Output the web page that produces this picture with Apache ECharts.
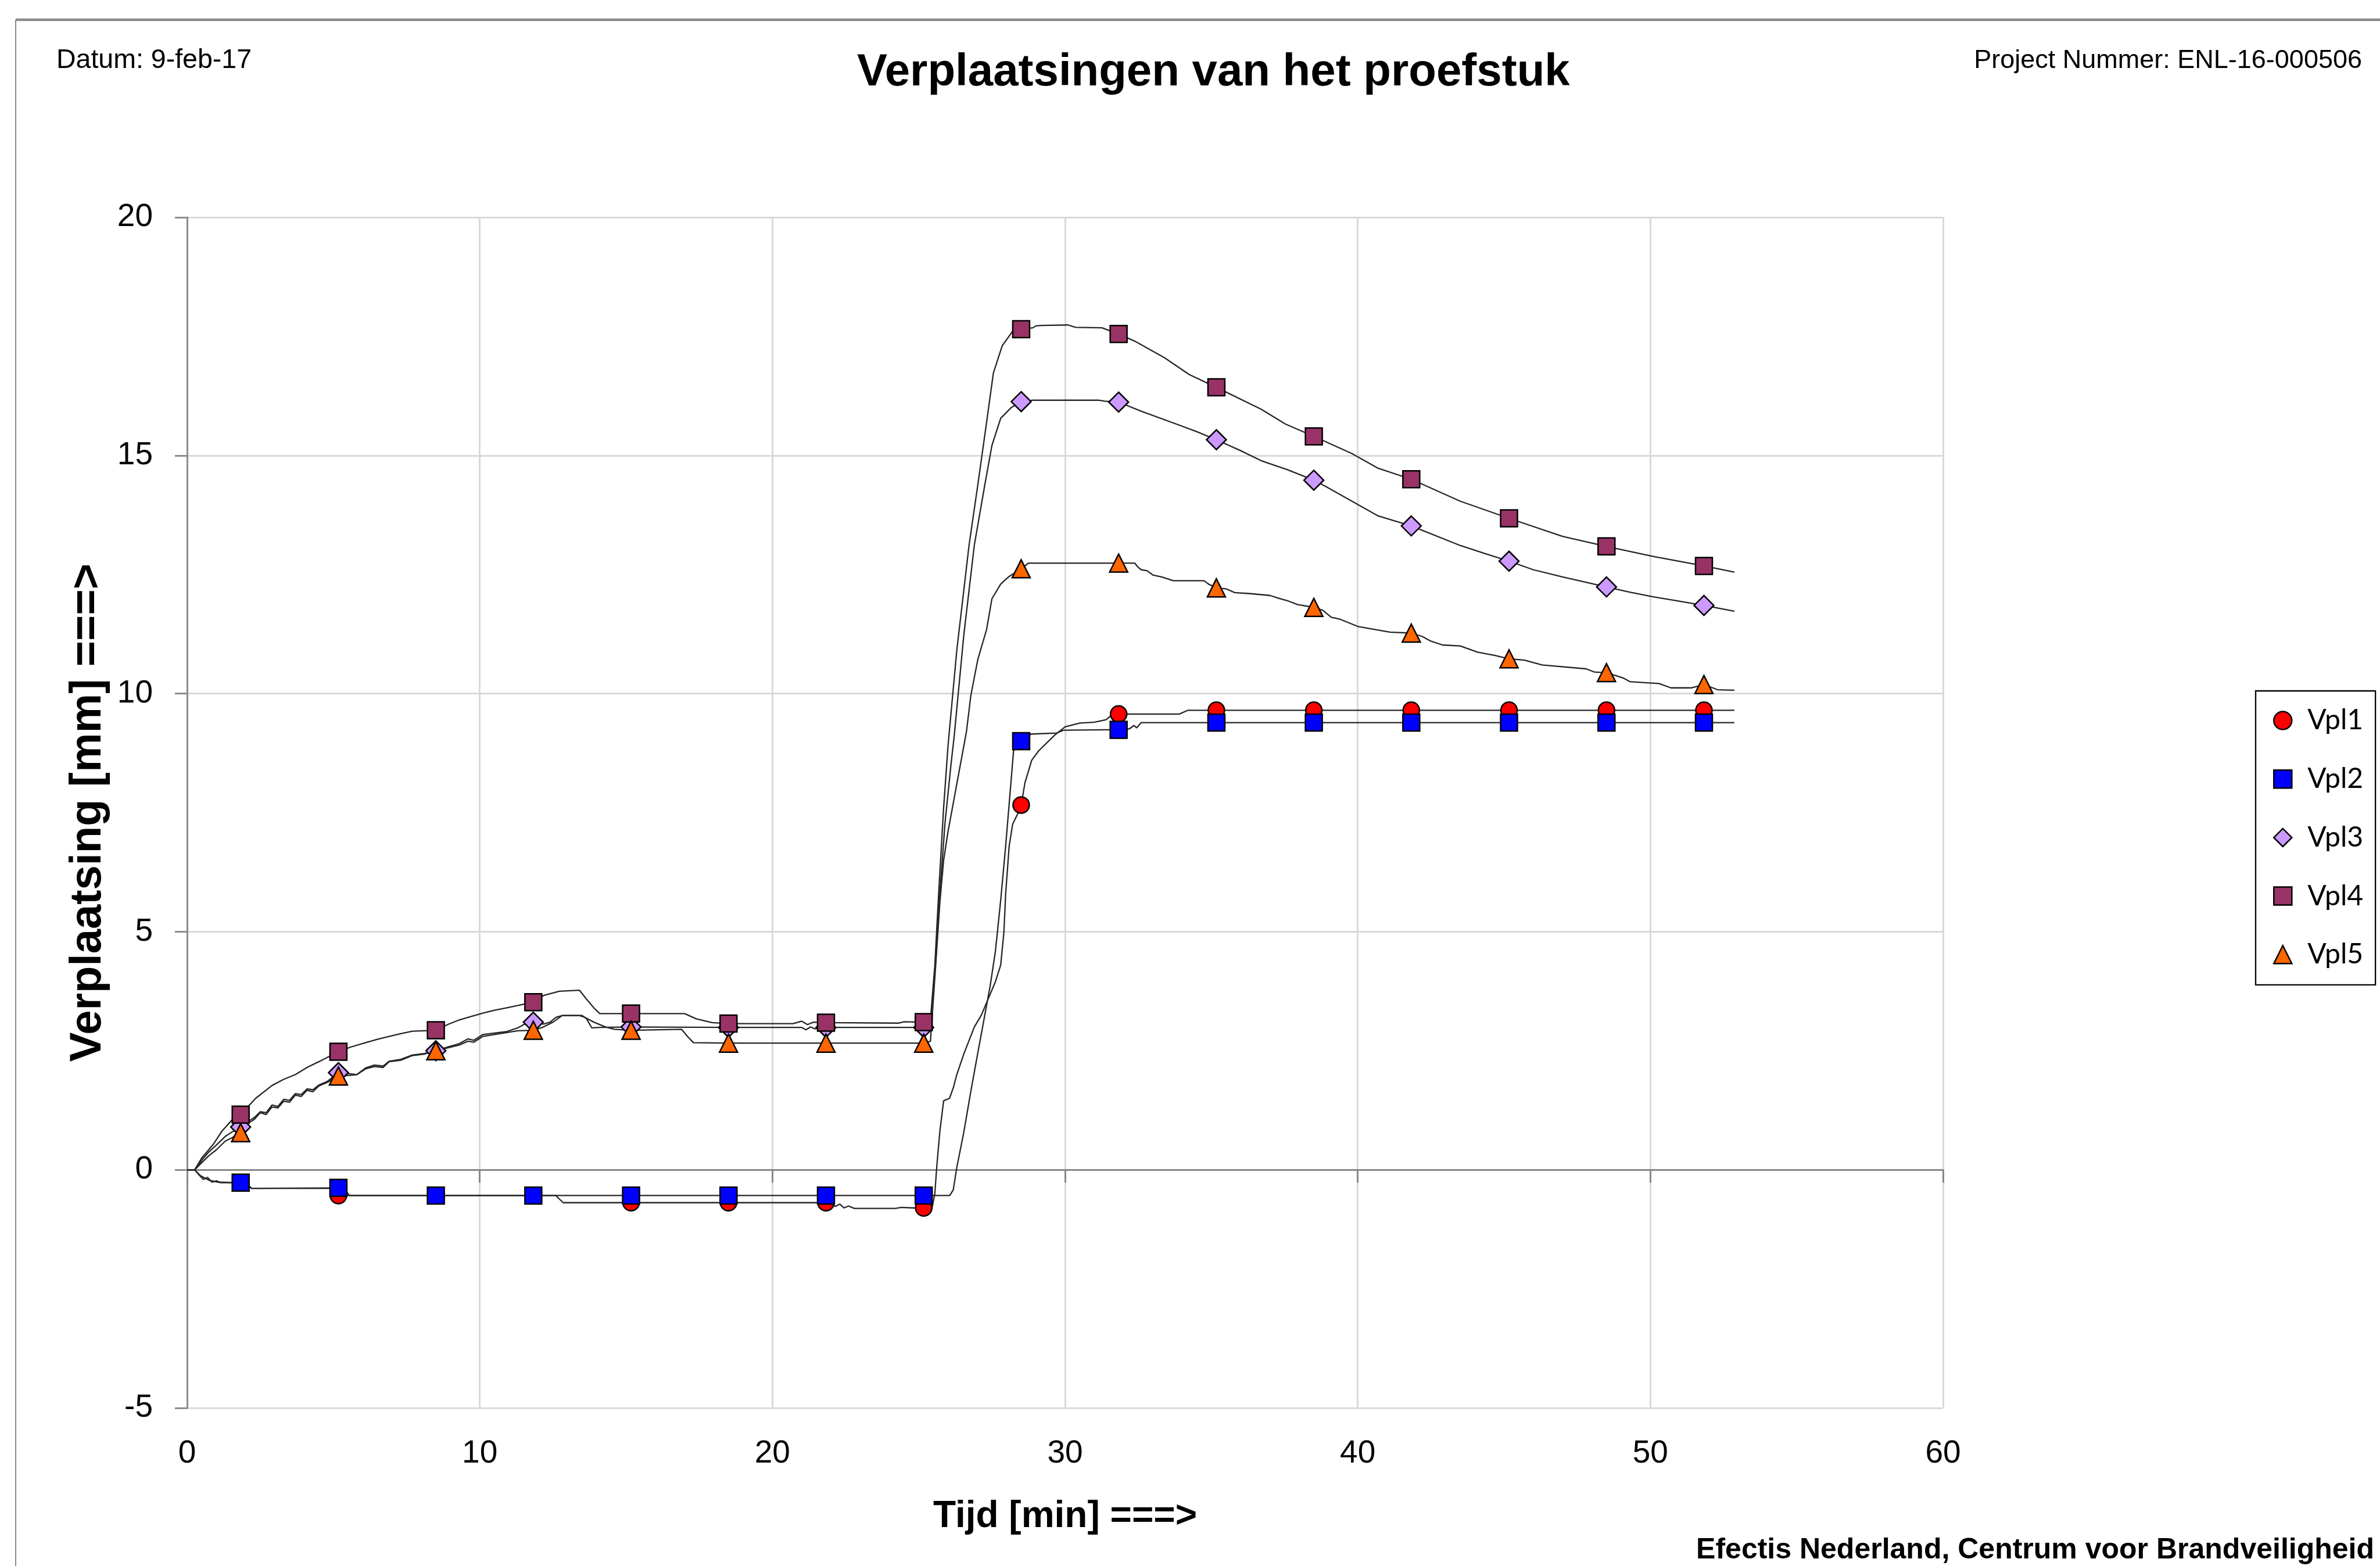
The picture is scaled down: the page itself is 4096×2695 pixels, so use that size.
<!DOCTYPE html>
<html>
<head>
<meta charset="utf-8">
<title>Verplaatsingen van het proefstuk</title>
<script src="https://cdn.jsdelivr.net/npm/echarts@6.0.0/dist/echarts.min.js"></script>
<style>
  html, body { margin: 0; padding: 0; background: #ffffff; }
  #chart { width: 4096px; height: 2695px; }
</style>
</head>
<body>
<div id="chart"></div>
<script>
// Measurement times (min) at which the sensor markers are plotted
const markTimes = [1.83, 5.17, 8.5, 11.83, 15.17, 18.5, 21.83, 25.17, 28.5, 31.83, 35.17, 38.5, 41.83, 45.17, 48.5, 51.83];

// Displacement (mm) at the marker times
const vpl1Marks = [-0.27, -0.54, -0.54, -0.54, -0.69, -0.69, -0.69, -0.8, 7.66, 9.57, 9.65, 9.65, 9.65, 9.65, 9.65, 9.65];
const vpl2Marks = [-0.27, -0.38, -0.54, -0.54, -0.54, -0.54, -0.54, -0.54, 9.0, 9.24, 9.39, 9.39, 9.39, 9.39, 9.39, 9.39];
const vpl3Marks = [0.9, 2.04, 2.5, 3.1, 3.0, 2.99, 2.99, 2.99, 16.13, 16.12, 15.33, 14.48, 13.52, 12.78, 12.24, 11.85];
const vpl4Marks = [1.16, 2.48, 2.93, 3.52, 3.28, 3.07, 3.09, 3.1, 17.65, 17.55, 16.43, 15.4, 14.5, 13.68, 13.09, 12.68];
const vpl5Marks = [0.78, 1.97, 2.5, 2.93, 2.93, 2.66, 2.66, 2.66, 12.62, 12.74, 12.22, 11.81, 11.27, 10.73, 10.44, 10.19];

// Logged readings between the markers: [time (min), displacement (mm)]
const vpl1Trace = [[0,0],[0.26,0],[0.4,-0.1],[0.55,-0.2],[0.7,-0.16],[0.85,-0.26],[1.0,-0.23],[1.15,-0.27],[2.0,-0.27],[2.2,-0.39],[4.9,-0.39],[5.05,-0.5],
  [5.4,-0.54],[12.6,-0.54],[12.85,-0.69],[22.0,-0.69],[22.15,-0.77],[22.3,-0.72],[22.45,-0.8],[22.6,-0.76],[22.8,-0.81],[24.2,-0.81],[24.4,-0.79],[24.8,-0.8],
  [25.45,-0.82],[25.55,-0.5],[25.62,0.1],[25.72,0.8],[25.85,1.45],[26.05,1.5],[26.18,1.72],[26.3,2.0],[26.55,2.45],[26.9,3.0],[27.14,3.25],[27.38,3.6],
  [27.62,3.95],[27.8,4.3],[27.91,4.99],[27.97,5.8],[28.09,6.8],[28.21,7.26],[28.4,7.5],[28.63,8.13],[28.86,8.6],[29.1,8.8],[29.65,9.13],[30.0,9.3],
  [30.5,9.38],[31.0,9.4],[31.4,9.45],[31.6,9.55],[32.5,9.57],[33.9,9.57],[34.2,9.65],[52.87,9.65]];
const vpl2Trace = [[0,0],[0.26,0],[0.45,-0.12],[0.75,-0.22],[1.07,-0.26],[2.0,-0.27],[2.2,-0.39],[5.35,-0.39],[5.55,-0.54],[26.06,-0.54],[26.18,-0.42],
  [26.3,0.05],[26.54,0.79],[26.78,1.65],[27.02,2.46],[27.26,3.26],[27.44,3.86],[27.62,4.59],[27.8,5.66],[27.97,6.8],[28.15,8.13],[28.24,8.8],[28.84,9.15],
  [29.7,9.17],[29.95,9.23],[31.4,9.24],[32.2,9.26],[32.35,9.33],[32.45,9.28],[32.6,9.39],[52.87,9.39]];
const vpl3Trace = [[0,0],[0.26,0],[0.5,0.2],[0.75,0.38],[1.0,0.52],[1.3,0.7],[1.55,0.8],[2.1,1.02],[2.3,1.1],[2.5,1.22],[2.7,1.2],[2.9,1.36],[3.1,1.33],
  [3.3,1.48],[3.5,1.46],[3.7,1.6],[3.9,1.58],[4.1,1.7],[4.3,1.68],[4.5,1.78],[4.8,1.86],[5.5,2.02],[5.8,2.0],[6.1,2.14],[6.4,2.2],[6.7,2.18],[6.9,2.28],
  [7.3,2.32],[7.7,2.41],[8.1,2.44],[8.9,2.58],[9.3,2.65],[9.6,2.75],[9.8,2.72],[10.1,2.84],[10.5,2.87],[10.9,2.9],[11.3,2.98],[11.5,3.05],[12.18,3.06],
  [12.4,3.1],[12.6,3.2],[12.82,3.24],[13.5,3.24],[13.65,3.17],[13.83,2.98],[14.1,2.99],[21.0,2.99],[21.15,2.94],[21.3,3.0],[21.45,2.96],[21.6,2.99],
  [25.4,3.02],[25.58,4.4],[25.72,5.8],[25.9,7.3],[26.1,8.5],[26.21,9.1],[26.54,11.23],[26.9,13.12],[27.26,14.39],[27.5,15.21],[27.8,15.78],[28.15,16.0],
  [28.9,16.16],[31.14,16.16],[31.35,16.14],[32.6,15.93],[33.8,15.66],[34.5,15.5],[36.0,15.1],[36.7,14.89],[37.6,14.7],[38.9,14.35],[39.8,14.04],
  [40.7,13.73],[43.5,13.11],[44.3,12.95],[46.0,12.6],[47.0,12.45],[49.3,12.13],[50.1,12.03],[50.9,11.95],[52.87,11.73]];
const vpl4Trace = [[0,0],[0.26,0],[0.5,0.25],[0.9,0.54],[1.2,0.82],[1.54,1.05],[2.34,1.5],[2.9,1.77],[3.3,1.9],[3.7,2.0],[4.1,2.15],[4.5,2.27],[5.6,2.58],
  [6.1,2.67],[6.5,2.74],[6.9,2.8],[7.3,2.86],[7.7,2.91],[8.9,3.05],[9.31,3.15],[9.7,3.22],[10.1,3.29],[10.5,3.35],[10.9,3.4],[11.3,3.45],[12.18,3.66],
  [12.72,3.75],[13.41,3.77],[13.64,3.59],[13.9,3.4],[14.1,3.28],[17.0,3.28],[17.4,3.17],[17.94,3.09],[20.7,3.07],[21.0,3.12],[21.2,3.05],[21.4,3.1],
  [24.3,3.08],[24.5,3.11],[25.4,3.15],[25.55,4.3],[25.68,5.8],[25.85,7.6],[26.0,8.9],[26.3,10.91],[26.72,13.12],[27.02,14.39],[27.38,15.97],[27.55,16.73],
  [27.85,17.3],[28.21,17.61],[28.9,17.68],[29.0,17.72],[29.17,17.73],[30.1,17.74],[30.36,17.69],[31.26,17.68],[32.38,17.4],[33.4,17.05],[34.24,16.7],
  [36.7,15.97],[37.53,15.66],[39.8,15.04],[40.7,14.73],[43.5,14.04],[47.0,13.3],[50.1,12.88],[52.87,12.55]];
const vpl5Trace = [[0,0],[0.26,0],[0.5,0.15],[0.75,0.3],[1.0,0.42],[1.3,0.6],[1.55,0.68],[2.1,0.98],[2.3,1.06],[2.5,1.2],[2.7,1.16],[2.9,1.32],[3.1,1.3],
  [3.3,1.44],[3.5,1.42],[3.7,1.57],[3.9,1.54],[4.1,1.67],[4.3,1.64],[4.5,1.76],[4.8,1.84],[5.5,1.98],[5.8,2.0],[6.1,2.12],[6.4,2.17],[6.7,2.15],[6.9,2.27],
  [7.3,2.3],[7.7,2.4],[8.1,2.43],[8.9,2.56],[9.3,2.62],[9.6,2.7],[9.8,2.68],[10.1,2.8],[10.5,2.84],[10.9,2.88],[11.3,2.92],[12.18,3.0],[12.5,3.1],
  [12.82,3.24],[13.4,3.24],[13.6,3.2],[13.9,3.1],[14.3,3.0],[14.6,2.95],[16.9,2.95],[17.1,2.8],[17.3,2.67],[25.4,2.7],[25.58,4.3],[25.72,5.6],[25.85,6.5],
  [26.0,7.1],[26.3,8.1],[26.63,9.2],[26.78,9.96],[27.02,10.72],[27.32,11.35],[27.5,11.99],[27.8,12.3],[28.09,12.46],[28.75,12.74],[31.5,12.74],[32.38,12.74],
  [32.5,12.65],[32.6,12.6],[32.8,12.58],[33.0,12.49],[33.3,12.45],[33.7,12.37],[34.75,12.37],[34.9,12.3],[35.5,12.2],[35.8,12.12],[36.3,12.1],[37.0,12.06],
  [37.3,12.0],[37.6,11.95],[37.94,11.87],[38.8,11.75],[39.1,11.6],[39.4,11.56],[40.0,11.41],[41.1,11.29],[42.2,11.2],[42.5,11.1],[42.9,11.02],[43.5,11.0],
  [44.1,10.87],[44.7,10.8],[45.7,10.7],[46.3,10.6],[47.8,10.52],[48.1,10.45],[49.06,10.33],[49.3,10.25],[50.3,10.21],[50.7,10.12],[51.4,10.12],[52.3,10.08],[52.87,10.07]];

const seriesNames = ['Vpl1', 'Vpl2', 'Vpl3', 'Vpl4', 'Vpl5'];
const xTicks = { min: 0, max: 60, step: 10 };
const yTicks = { min: -5, max: 20, step: 5 };

const FONT = 'Liberation Sans';
const LINE_COLOR = '#262626';

// One line per sensor: the logged readings drawn as a thin line, with a
// marker symbol only on the marker readings.
function sensorSeries(name, trace, marks, symbol, size, fill) {
  const pts = trace.map(p => ({ value: p, symbol: 'none' }));
  markTimes.forEach((t, i) => pts.push({ value: [t, marks[i]] }));
  pts.sort((a, b) => a.value[0] - b.value[0]);
  return {
    name: name,
    type: 'line',
    data: pts,
    symbol: symbol,
    symbolSize: size,
    showSymbol: true,
    showAllSymbol: true,
    xAxisIndex: 0,
    yAxisIndex: 0,
    itemStyle: { color: fill, borderColor: '#000000', borderWidth: 2.5 },
    lineStyle: { color: LINE_COLOR, width: 2.3 },
    emphasis: { disabled: true },
    silent: true,
    animation: false
  };
}

const chart = echarts.init(document.getElementById('chart'), null, { renderer: 'canvas' });

chart.setOption({
  backgroundColor: '#ffffff',
  animation: false,
  title: [
    { text: 'Verplaatsingen van het proefstuk', left: 1475, top: 86, padding: 0,
      textStyle: { fontFamily: FONT, fontSize: 78, fontWeight: 'bold', color: '#000' } },
    { text: 'Datum: 9-feb-17', left: 97, top: 81, padding: 0,
      textStyle: { fontFamily: FONT, fontSize: 46.5, fontWeight: 'normal', color: '#000' } },
    { text: 'Project Nummer: ENL-16-000506', right: 31, top: 82, padding: 0,
      textStyle: { fontFamily: FONT, fontSize: 45, fontWeight: 'normal', color: '#000' } },
    { text: 'Efectis Nederland, Centrum voor Brandveiligheid', right: 10, top: 2643, padding: 0,
      textStyle: { fontFamily: FONT, fontSize: 50, fontWeight: 'bold', color: '#000' } }
  ],
  graphic: [
    { type: 'line', silent: true, z: -1,
      shape: { x1: 27, y1: 34, x2: 4096, y2: 34 },
      style: { stroke: '#8a8a8a', lineWidth: 4.5 } },
    { type: 'line', silent: true, z: -1,
      shape: { x1: 27, y1: 34, x2: 27, y2: 2695 },
      style: { stroke: '#8a8a8a', lineWidth: 2 } }
  ],
  legend: {
    orient: 'vertical',
    left: 3882,
    top: 1189,
    padding: [27, 21, 28, 30],
    itemGap: 52.7,
    itemWidth: 31,
    itemHeight: 31,
    selectedMode: false,
    backgroundColor: '#ffffff',
    borderColor: '#000000',
    borderWidth: 2.3,
    borderRadius: 0,
    itemStyle: { borderColor: '#000000', borderWidth: 2.5 },
    textStyle: { fontFamily: 'Lato', fontSize: 48, color: '#000', lineHeight: 48, padding: [0, 0, 0, 22] },
    data: [
      { name: seriesNames[0], icon: 'circle' },
      { name: seriesNames[1], icon: 'rect' },
      { name: seriesNames[2], icon: 'diamond' },
      { name: seriesNames[3], icon: 'rect' },
      { name: seriesNames[4], icon: 'triangle' }
    ]
  },
  grid: { left: 322, top: 374, width: 3022, height: 2049, containLabel: false, outerBoundsMode: 'none' },
  xAxis: [
    {
      type: 'value', min: xTicks.min, max: xTicks.max, interval: xTicks.step, position: 'bottom',
      axisLine: { show: false, onZero: false },
      axisTick: { show: false },
      axisLabel: { fontFamily: FONT, fontSize: 55, color: '#000', margin: 51 },
      splitLine: { show: true, lineStyle: { color: '#d9d9d9', width: 3 } },
      name: 'Tijd [min] ===>', nameLocation: 'middle', nameGap: 155,
      nameTextStyle: { fontFamily: FONT, fontSize: 64, fontWeight: 'bold', color: '#000' }
    },
    {
      // horizontal axis line crossing at zero, with its tick marks
      type: 'value', min: xTicks.min, max: xTicks.max, interval: xTicks.step, position: 'bottom',
      axisLine: { show: true, onZero: true, onZeroAxisIndex: 0, lineStyle: { color: '#878787', width: 3 } },
      axisTick: { show: true, length: 22, lineStyle: { color: '#878787', width: 3 } },
      axisLabel: { show: false },
      splitLine: { show: false }
    }
  ],
  yAxis: {
    type: 'value', min: yTicks.min, max: yTicks.max, interval: yTicks.step, position: 'left',
    axisLine: { show: true, onZero: false, lineStyle: { color: '#8c8c8c', width: 3 } },
    axisTick: { show: true, length: 21, lineStyle: { color: '#8c8c8c', width: 3 } },
    axisLabel: { fontFamily: FONT, fontSize: 55, color: '#000', margin: 59 },
    splitLine: { show: true, lineStyle: { color: '#d9d9d9', width: 3 } },
    name: 'Verplaatsing [mm] ===>', nameLocation: 'middle', nameRotate: 90, nameGap: 132,
    nameTextStyle: { fontFamily: FONT, fontSize: 76, fontWeight: 'bold', color: '#000' }
  },
  series: [
    sensorSeries(seriesNames[0], vpl1Trace, vpl1Marks, 'circle', 28, '#ff0000'),
    sensorSeries(seriesNames[1], vpl2Trace, vpl2Marks, 'rect', 29, '#0000ff'),
    sensorSeries(seriesNames[2], vpl3Trace, vpl3Marks, 'diamond', 34, '#cc99ff'),
    sensorSeries(seriesNames[3], vpl4Trace, vpl4Marks, 'rect', 29, '#993366'),
    sensorSeries(seriesNames[4], vpl5Trace, vpl5Marks, 'triangle', 31, '#ff6600')
  ]
});
</script>
</body>
</html>
